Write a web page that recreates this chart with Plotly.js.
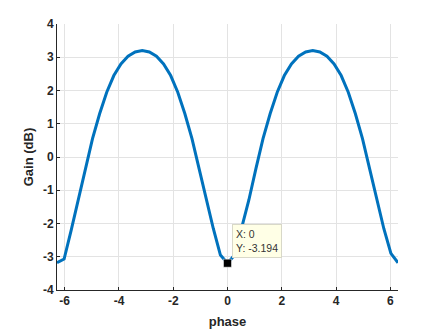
<!DOCTYPE html>
<html>
<head>
<meta charset="utf-8">
<script src="https://cdn.plot.ly/plotly-3.0.1.min.js"></script>
<style>html,body{margin:0;padding:0;background:#fff;}#chart{width:440px;height:330px;}</style>
</head>
<body>
<div id="chart"></div>
<script>
// phase samples (rad)
var phase = [-6.2832, -6.0214, -5.7596, -5.4978, -5.2360, -4.9742, -4.7124, -4.4506, -4.1888, -3.9270,
  -3.6652, -3.4034, -3.1416, -2.8798, -2.6180, -2.3562, -2.0944, -1.8326, -1.5708, -1.3090,
  -1.0472, -0.7854, -0.5236, -0.2618, 0, 0.2618, 0.5236, 0.7854, 1.0472, 1.3090,
  1.5708, 1.8326, 2.0944, 2.3562, 2.6180, 2.8798, 3.1416, 3.4034, 3.6652, 3.9270,
  4.1888, 4.4506, 4.7124, 4.9742, 5.2360, 5.4978, 5.7596, 6.0214, 6.2832];
// gain (dB)
var gain = [-3.18, -3.07, -2.2, -1.3, -0.35, 0.55, 1.3, 1.95, 2.45, 2.8,
  3.03, 3.16, 3.2, 3.16, 3.03, 2.8, 2.45, 1.95, 1.3, 0.55,
  -0.35, -1.3, -2.15, -2.95, -3.194, -2.95, -2.15, -1.3, -0.35, 0.55,
  1.3, 1.95, 2.45, 2.8, 3.03, 3.16, 3.2, 3.16, 3.03, 2.8,
  2.45, 1.95, 1.3, 0.55, -0.35, -1.3, -2.15, -2.9, -3.18];
var xTicks = [-6, -4, -2, 0, 2, 4, 6];
var yTicks = [-4, -3, -2, -1, 0, 1, 2, 3, 4];
var tipX = [0];
var tipY = [-3.194];
var tipText = 'X: 0<br>Y: -3.194';

var axisFont = {family: 'Liberation Sans, Arial, sans-serif', size: 12, color: '#262626', weight: 'bold'};

Plotly.newPlot('chart', [
  {x: phase, y: gain, type: 'scatter', mode: 'lines',
   line: {color: '#0072BD', width: 3}, hoverinfo: 'skip'},
  {x: tipX, y: tipY, type: 'scatter', mode: 'markers',
   marker: {color: '#000000', symbol: 'square', size: 8, line: {color: '#ffffff', width: 0.5}}, hoverinfo: 'skip'}
], {
  width: 440, height: 330,
  margin: {l: 57, r: 42, t: 24, b: 40},
  paper_bgcolor: '#ffffff', plot_bgcolor: '#ffffff',
  showlegend: false,
  font: {family: 'Liberation Sans, Arial, sans-serif', color: '#262626'},
  xaxis: {
    range: [-6.2832, 6.2832], tickvals: xTicks, ticktext: xTicks.map(String),
    showgrid: true, gridcolor: '#e3e3e3', zeroline: false,
    showline: true, linecolor: '#262626', linewidth: 1, mirror: false,
    ticks: 'inside', ticklen: 3, tickcolor: '#262626',
    tickfont: axisFont,
    title: {text: 'phase', font: {family: 'Liberation Sans, Arial, sans-serif', size: 13, color: '#262626', weight: 'bold'}, standoff: 9}
  },
  yaxis: {
    range: [-4, 4], tickvals: yTicks, ticktext: yTicks.map(String),
    showgrid: true, gridcolor: '#e3e3e3', zeroline: false,
    showline: true, linecolor: '#262626', linewidth: 1, mirror: false,
    ticks: 'inside', ticklen: 3, tickcolor: '#262626',
    tickfont: axisFont,
    title: {text: 'Gain (dB)', font: {family: 'Liberation Sans, Arial, sans-serif', size: 13, color: '#262626', weight: 'bold'}, standoff: 6}
  },
  annotations: [{
    x: 0.15, y: -2.0, xref: 'x', yref: 'y', xanchor: 'left', yanchor: 'top',
    text: tipText, showarrow: false, align: 'left',
    font: {family: 'Liberation Sans, Arial, sans-serif', size: 10.5, color: '#333333'},
    bgcolor: '#ffffe6', bordercolor: '#d8d8c8', borderwidth: 1, borderpad: 3
  }]
}, {displayModeBar: false, staticPlot: true});
</script>
</body>
</html>
